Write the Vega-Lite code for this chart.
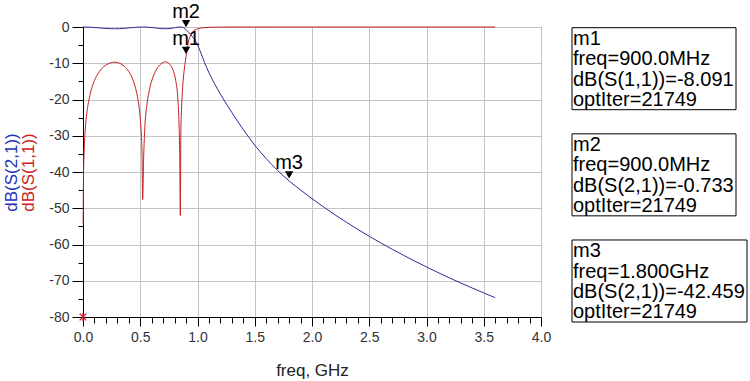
{
  "$schema": "https://vega.github.io/schema/vega-lite/v6.json",
  "width": 458,
  "height": 290,
  "autosize": {"type": "none"},
  "padding": {"left": 83, "top": 27, "right": 209, "bottom": 64},
  "background": "white",
  "config": {
    "view": {"stroke": "#000000", "strokeWidth": 1},
    "font": "Liberation Sans",
    "text": {"font": "Liberation Sans"}
  },
  "datasets": {
    "s11": [
      {"freq": 0.001, "dB": -54.2}, {"freq": 0.005, "dB": -40.2}, {"freq": 0.01, "dB": -34.2},
      {"freq": 0.02, "dB": -28.2}, {"freq": 0.03, "dB": -24.7}, {"freq": 0.05, "dB": -20.4},
      {"freq": 0.07, "dB": -17.6}, {"freq": 0.1, "dB": -14.8}, {"freq": 0.13, "dB": -12.9},
      {"freq": 0.16, "dB": -11.6}, {"freq": 0.2, "dB": -10.5}, {"freq": 0.24, "dB": -9.9},
      {"freq": 0.275, "dB": -9.7}, {"freq": 0.32, "dB": -10.0}, {"freq": 0.36, "dB": -10.8},
      {"freq": 0.4, "dB": -12.3}, {"freq": 0.43, "dB": -14.1}, {"freq": 0.46, "dB": -17.0},
      {"freq": 0.48, "dB": -20.0}, {"freq": 0.5, "dB": -25.2}, {"freq": 0.51, "dB": -30.1},
      {"freq": 0.515, "dB": -34.2}, {"freq": 0.521, "dB": -47.6}, {"freq": 0.53, "dB": -35.6},
      {"freq": 0.54, "dB": -27.8}, {"freq": 0.56, "dB": -21.0}, {"freq": 0.58, "dB": -17.3},
      {"freq": 0.61, "dB": -13.9}, {"freq": 0.64, "dB": -11.8}, {"freq": 0.68, "dB": -10.2},
      {"freq": 0.72, "dB": -9.6}, {"freq": 0.76, "dB": -10.4}, {"freq": 0.79, "dB": -12.2},
      {"freq": 0.81, "dB": -14.8}, {"freq": 0.83, "dB": -20.6}, {"freq": 0.84, "dB": -28.2},
      {"freq": 0.845, "dB": -36.0}, {"freq": 0.85, "dB": -52.0}, {"freq": 0.855, "dB": -28.5},
      {"freq": 0.86, "dB": -23.0}, {"freq": 0.87, "dB": -16.8}, {"freq": 0.88, "dB": -13.0},
      {"freq": 0.89, "dB": -10.4}, {"freq": 0.9, "dB": -8.091}, {"freq": 0.91, "dB": -6.0},
      {"freq": 0.92, "dB": -4.2}, {"freq": 0.93, "dB": -3.0}, {"freq": 0.94, "dB": -2.2},
      {"freq": 0.95, "dB": -1.6}, {"freq": 0.97, "dB": -0.95}, {"freq": 1.0, "dB": -0.5},
      {"freq": 1.05, "dB": -0.2}, {"freq": 1.1, "dB": -0.09}, {"freq": 1.2, "dB": -0.03},
      {"freq": 1.4, "dB": -0.01}, {"freq": 1.8, "dB": 0}, {"freq": 2.5, "dB": 0}, {"freq": 3.6, "dB": 0}
    ],
    "s21": [
      {"freq": 0, "dB": 0}, {"freq": 0.05, "dB": -0.04}, {"freq": 0.1, "dB": -0.145},
      {"freq": 0.16, "dB": -0.31}, {"freq": 0.2, "dB": -0.405}, {"freq": 0.24, "dB": -0.466},
      {"freq": 0.275, "dB": -0.49}, {"freq": 0.32, "dB": -0.458}, {"freq": 0.36, "dB": -0.377},
      {"freq": 0.4, "dB": -0.26}, {"freq": 0.43, "dB": -0.17}, {"freq": 0.46, "dB": -0.087},
      {"freq": 0.5, "dB": -0.014}, {"freq": 0.521, "dB": 0}, {"freq": 0.56, "dB": -0.035},
      {"freq": 0.61, "dB": -0.18}, {"freq": 0.64, "dB": -0.29}, {"freq": 0.68, "dB": -0.43},
      {"freq": 0.72, "dB": -0.49}, {"freq": 0.76, "dB": -0.415}, {"freq": 0.79, "dB": -0.265},
      {"freq": 0.81, "dB": -0.145}, {"freq": 0.83, "dB": -0.038}, {"freq": 0.85, "dB": 0},
      {"freq": 0.87, "dB": -0.091}, {"freq": 0.88, "dB": -0.22}, {"freq": 0.89, "dB": -0.45},
      {"freq": 0.9, "dB": -0.733}, {"freq": 0.92, "dB": -1.4}, {"freq": 0.94, "dB": -2.1},
      {"freq": 0.96, "dB": -2.85}, {"freq": 0.98, "dB": -3.7}, {"freq": 1.0, "dB": -4.9},
      {"freq": 1.02, "dB": -6.4}, {"freq": 1.04, "dB": -8.0}, {"freq": 1.06, "dB": -9.7},
      {"freq": 1.08, "dB": -11.2}, {"freq": 1.1, "dB": -12.6}, {"freq": 1.15, "dB": -15.7},
      {"freq": 1.2, "dB": -18.5}, {"freq": 1.25, "dB": -21.1}, {"freq": 1.3, "dB": -23.6},
      {"freq": 1.35, "dB": -26.0}, {"freq": 1.4, "dB": -28.3}, {"freq": 1.45, "dB": -30.5},
      {"freq": 1.5, "dB": -32.6}, {"freq": 1.6, "dB": -36.3}, {"freq": 1.7, "dB": -39.6},
      {"freq": 1.8, "dB": -42.459}, {"freq": 1.9, "dB": -44.97}, {"freq": 2.0, "dB": -47.36},
      {"freq": 2.1, "dB": -49.62}, {"freq": 2.2, "dB": -51.79}, {"freq": 2.3, "dB": -53.85},
      {"freq": 2.4, "dB": -55.83}, {"freq": 2.5, "dB": -57.73}, {"freq": 2.6, "dB": -59.55},
      {"freq": 2.7, "dB": -61.3}, {"freq": 2.8, "dB": -62.99}, {"freq": 2.9, "dB": -64.62},
      {"freq": 3.0, "dB": -66.2}, {"freq": 3.1, "dB": -67.72}, {"freq": 3.2, "dB": -69.2},
      {"freq": 3.3, "dB": -70.63}, {"freq": 3.4, "dB": -72.01}, {"freq": 3.5, "dB": -73.36},
      {"freq": 3.6, "dB": -74.67}
    ],
    "markers": [
      {"marker": "m1", "freq": 0.9, "dB": -8.091},
      {"marker": "m2", "freq": 0.9, "dB": -0.733},
      {"marker": "m3", "freq": 1.8, "dB": -42.459}
    ],
    "s11_start": [{"freq": 0, "dB": -80}],
    "readout": [
      {"marker": "m1", "label": "m1\nfreq=900.0MHz\ndB(S(1,1))=-8.091\noptIter=21749"},
      {"marker": "m2", "label": "m2\nfreq=900.0MHz\ndB(S(2,1))=-0.733\noptIter=21749"},
      {"marker": "m3", "label": "m3\nfreq=1.800GHz\ndB(S(2,1))=-42.459\noptIter=21749"}
    ]
  },
  "layer": [
    {
      "encoding": {
        "x": {
          "field": "freq",
          "type": "quantitative",
          "scale": {"domain": [0, 4], "nice": false, "zero": false},
          "axis": {
            "title": "freq, GHz",
            "values": [0, 0.1, 0.2, 0.3, 0.4, 0.5, 0.6, 0.7, 0.8, 0.9, 1, 1.1, 1.2, 1.3, 1.4, 1.5, 1.6, 1.7, 1.8, 1.9, 2, 2.1, 2.2, 2.3, 2.4, 2.5, 2.6, 2.7, 2.8, 2.9, 3, 3.1, 3.2, 3.3, 3.4, 3.5, 3.6, 3.7, 3.8, 3.9, 4],
            "labelExpr": "abs(datum.value * 2 - round(datum.value * 2)) < 0.001 ? format(datum.value, '.1f') : ''",
            "labelFont": "Liberation Sans",
            "labelFontSize": 14,
            "labelColor": "#333333",
            "labelPadding": 4,
            "labelOverlap": false,
            "labelFlush": false,
            "labelBound": false,
            "tickColor": "#000000",
            "tickWidth": 1,
            "tickSize": {"condition": {"test": "abs(datum.value * 2 - round(datum.value * 2)) < 0.001", "value": 9}, "value": 6},
            "domainColor": "#000000",
            "domainWidth": 1,
            "grid": true,
            "gridColor": "#c4c4c4",
            "gridWidth": 1,
            "gridOpacity": {"condition": {"test": "abs(datum.value * 2 - round(datum.value * 2)) < 0.001", "value": 1}, "value": 0},
            "titleFont": "Liberation Sans",
            "titleFontSize": 17,
            "titleFontWeight": "normal",
            "titleColor": "#222222",
            "titlePadding": 18
          }
        }
      },
      "layer": [
        {
          "data": {"name": "s11"},
          "mark": {"type": "line", "color": "#c62020", "strokeWidth": 1, "interpolate": "monotone"},
          "encoding": {
            "y": {
              "field": "dB",
              "type": "quantitative",
              "scale": {"domain": [-80, 0], "nice": false, "zero": false},
              "axis": {
                "orient": "left",
                "title": "dB(S(1,1))",
                "titleColor": "#cc2222",
                "titleFont": "Liberation Sans",
                "titleFontSize": 17,
                "titleFontWeight": "normal",
                "titlePadding": 46,
                "labels": false,
                "ticks": false,
                "domain": false,
                "grid": false
              }
            }
          }
        },
        {
          "data": {"name": "s21"},
          "mark": {"type": "line", "color": "#2b2b9c", "strokeWidth": 1, "interpolate": "monotone"},
          "encoding": {
            "y": {
              "field": "dB",
              "type": "quantitative",
              "scale": {"domain": [-80, 0], "nice": false, "zero": false},
              "axis": {
                "orient": "left",
                "title": "dB(S(2,1))",
                "titleColor": "#2233b8",
                "titleFont": "Liberation Sans",
                "titleFontSize": 17,
                "titleFontWeight": "normal",
                "titlePadding": 28,
                "values": [-80, -75, -70, -65, -60, -55, -50, -45, -40, -35, -30, -25, -20, -15, -10, -5, 0],
                "labelExpr": "datum.value % 10 === 0 ? '' + datum.value : ''",
                "labelFont": "Liberation Sans",
                "labelFontSize": 14,
                "labelColor": "#333333",
                "labelPadding": 3,
                "labelOverlap": false,
                "labelBound": false,
                "labelFlush": false,
                "tickColor": "#000000",
                "tickWidth": 1,
                "tickSize": {"condition": {"test": "datum.value % 10 === 0", "value": 11}, "value": 5},
                "domainColor": "#000000",
                "domainWidth": 1,
                "grid": true,
                "gridColor": "#c4c4c4",
                "gridWidth": 1,
                "gridOpacity": {"condition": {"test": "datum.value % 10 === 0", "value": 1}, "value": 0}
              }
            }
          }
        },
        {
          "data": {"name": "s11_start"},
          "mark": {"type": "point", "shape": "M-1,-1L1,1M-1,1L1,-1M0,-1.3L0,1.3", "filled": false, "stroke": "#c62020", "strokeWidth": 1.3, "size": 45, "opacity": 1},
          "encoding": {
            "y": {"field": "dB", "type": "quantitative", "scale": {"domain": [-80, 0], "nice": false, "zero": false}, "axis": null}
          }
        },
        {
          "data": {"name": "markers"},
          "mark": {"type": "point", "shape": "triangle-down", "filled": true, "color": "#000000", "size": 70, "yOffset": -6, "opacity": 1},
          "encoding": {
            "y": {"field": "dB", "type": "quantitative", "scale": {"domain": [-80, 0], "nice": false, "zero": false}, "axis": null}
          }
        },
        {
          "data": {"name": "markers"},
          "mark": {"type": "text", "fontSize": 20, "font": "Liberation Sans", "color": "#000000", "align": "center", "baseline": "alphabetic", "dy": -11.5},
          "encoding": {
            "y": {"field": "dB", "type": "quantitative", "scale": {"domain": [-80, 0], "nice": false, "zero": false}, "axis": null},
            "text": {"field": "marker"}
          }
        }
      ],
      "resolve": {"axis": {"y": "independent"}}
    },
    {
      "data": {"name": "readout"},
      "layer": [
        {
          "transform": [{"filter": "datum.marker !== 'm3'"}],
          "mark": {"type": "rect", "fill": "#ffffff", "stroke": "#000000", "strokeWidth": 1},
          "encoding": {
            "y": {"field": "marker", "type": "nominal", "scale": {"type": "band", "domain": ["m1", "m2", "m3"], "range": [0.7, 295], "paddingInner": 0.2275, "paddingOuter": 0}, "axis": null},
            "x": {"value": 489},
            "x2": {"value": 653}
          }
        },
        {
          "transform": [{"filter": "datum.marker === 'm3'"}],
          "mark": {"type": "rect", "fill": "#ffffff", "stroke": "#000000", "strokeWidth": 1},
          "encoding": {
            "y": {"field": "marker", "type": "nominal", "scale": {"type": "band", "domain": ["m1", "m2", "m3"], "range": [0.7, 295], "paddingInner": 0.2275, "paddingOuter": 0}, "axis": null},
            "x": {"value": 489},
            "x2": {"value": 664}
          }
        },
        {
          "mark": {"type": "text", "align": "left", "baseline": "alphabetic", "dy": 17.3, "lineBreak": "\n", "lineHeight": 20.3, "fontSize": 20, "font": "Liberation Sans", "color": "#000000"},
          "encoding": {
            "y": {"field": "marker", "type": "nominal", "bandPosition": 0, "scale": {"type": "band", "domain": ["m1", "m2", "m3"], "range": [0.7, 295], "paddingInner": 0.2275, "paddingOuter": 0}, "axis": null},
            "x": {"value": 490},
            "text": {"field": "label"}
          }
        }
      ]
    }
  ],
  "resolve": {"scale": {"y": "independent"}}
}
